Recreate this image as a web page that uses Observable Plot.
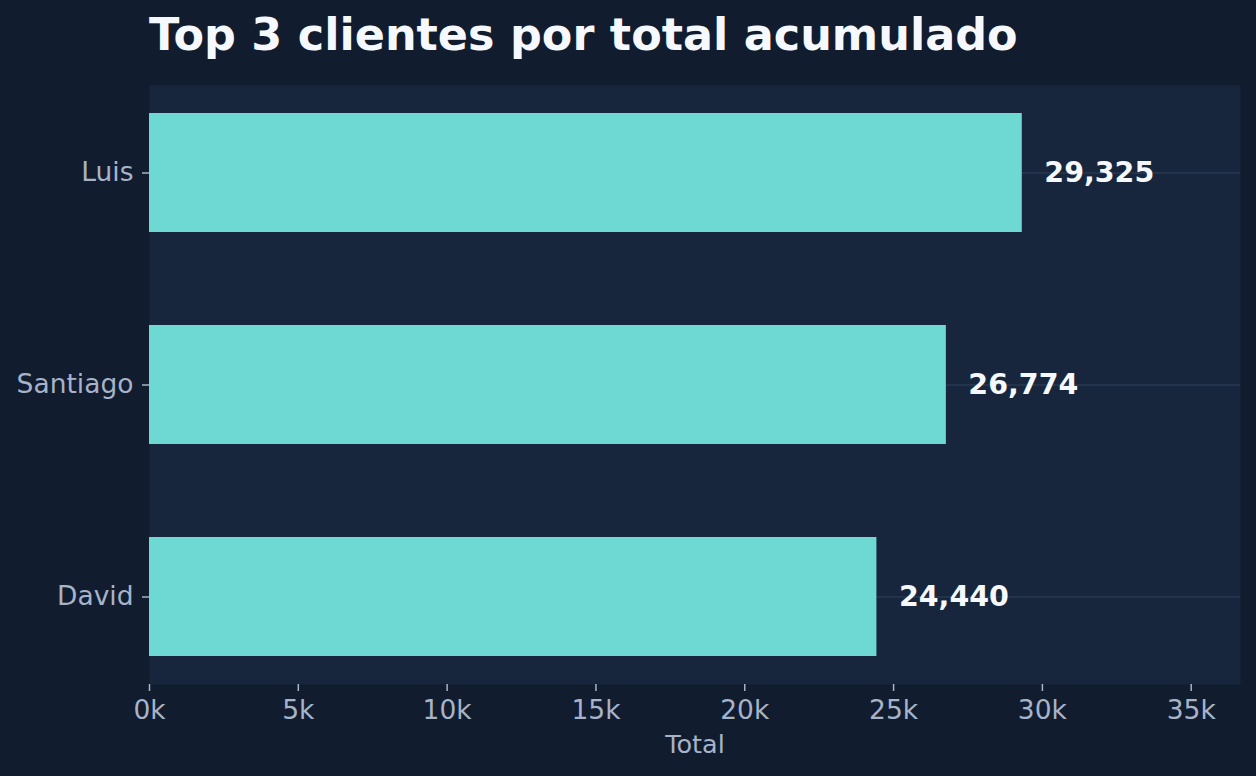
<!DOCTYPE html>
<html>
<head>
<meta charset="utf-8">
<script src="https://cdn.jsdelivr.net/npm/d3@7"></script>
<script src="https://cdn.jsdelivr.net/npm/@observablehq/plot@0.6"></script>
<style>
  html, body { margin: 0; padding: 0; background: #111c2f; }
  body { width: 1256px; height: 776px; overflow: hidden; font-family: "DejaVu Sans", sans-serif; }
  #title { height: 78px; box-sizing: border-box; padding: 9px 0 0 149px; font-size: 44.5px; font-weight: bold; color: #f5f8fc; line-height: normal; white-space: nowrap; }
  #chart svg { display: block; }
</style>
</head>
<body>
<div id="title">Top 3 clientes por total acumulado</div>
<div id="chart"></div>
<script>
const clientes = ["Luis", "Santiago", "David"];
const totales = [29325, 26774, 24440];
const xTicks = [0, 5000, 10000, 15000, 20000, 25000, 30000, 35000];

const data = clientes.map((c, i) => ({cliente: c, total: totales[i]}));
const xMax = d3.max(totales) * 1.25;
const axisColor = "#a6b3c8";

const chart = Plot.plot({
  width: 1256,
  height: 698,
  marginTop: 7,
  marginBottom: 92,
  marginLeft: 149,
  marginRight: 16,
  style: {background: "transparent", color: axisColor, fontFamily: "DejaVu Sans, sans-serif", fontSize: "26px", overflow: "visible"},
  x: {domain: [0, xMax]},
  y: {domain: clientes, paddingInner: 0.44, paddingOuter: 0.13},
  marks: [
    Plot.frame({fill: "#17263c", stroke: "none"}),
    Plot.ruleY(clientes, {y: d => d, stroke: "#283850", strokeWidth: 1.5}),
    Plot.barX(data, {x: "total", y: "cliente", fill: "#6ed8d2"}),
    Plot.text(data, {x: "total", y: "cliente", text: d => d3.format(",")(d.total), dx: 22, textAnchor: "start", fill: "#f5f8fc", fontWeight: "bold", fontSize: 28.5}),
    Plot.axisX({ticks: xTicks, tickFormat: d => (d / 1000) + "k", tickSize: 7, tickPadding: 9, stroke: axisColor, strokeWidth: 1.5, fontSize: 26.5, label: null}),
    Plot.axisY({tickSize: 7, tickPadding: 9, stroke: axisColor, strokeWidth: 1.5, fontSize: 26.5, label: null}),
    Plot.text(["Total"], {frameAnchor: "bottom", dy: 68, fill: axisColor, fontSize: 25.5, lineAnchor: "bottom"})
  ]
});
document.getElementById("chart").appendChild(chart);
</script>
</body>
</html>
